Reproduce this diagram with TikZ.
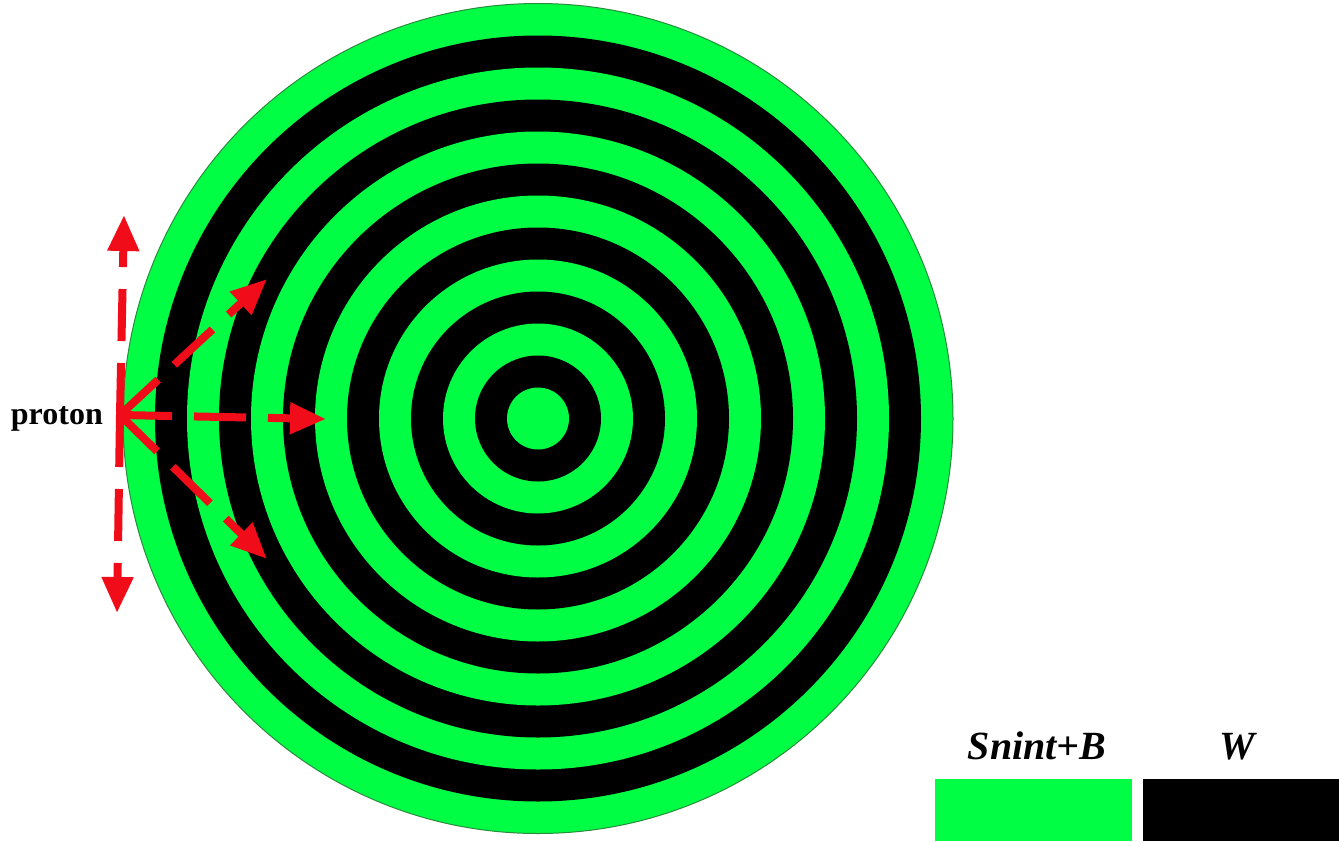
\documentclass[tikz,border=0pt]{standalone}
\usepackage{fontspec}
\setmainfont{Liberation Serif}
\usetikzlibrary{arrows.meta}
\definecolor{ringgreen}{RGB}{0,255,68}
\definecolor{edgegreen}{RGB}{40,140,60}
\definecolor{arrowred}{RGB}{240,12,24}
\tikzset{
  ray/.style={arrowred, line width=8pt, dash pattern=on 52pt off 22pt,
    -{Triangle[length=36pt,width=30pt]}},
  legendbox/.style={draw=none, minimum width=197pt, minimum height=62pt, inner sep=0pt},
  legendlabel/.style={font=\fontsize{40}{44}\selectfont\bfseries\itshape, inner sep=0pt}
}
\begin{document}
\begin{tikzpicture}[x=1pt,y=-1pt]
\useasboundingbox (0,0) rectangle (1339,841);
\coordinate (c) at (538,418.5);
% rings
\foreach \k in {12,11,...,0}{
  \pgfmathtruncatemacro{\ringpar}{mod(\k,2)}
  \ifnum\ringpar=0
    \fill[ringgreen] (c) circle[radius={31+32*\k}];
  \else
    \fill[black] (c) circle[radius={31+32*\k}];
  \fi
}
\draw[edgegreen, line width=1pt] (c) circle[radius=415];
% proton source
\coordinate (o) at (120,415);
\coordinate (up) at (124,215);
\coordinate (down) at (117,613);
\coordinate (right) at (326,419);
\coordinate (ur) at (267,279);
\coordinate (dr) at (267,559);
\node[anchor=base east, font=\fontsize{32}{36}\selectfont\bfseries, inner sep=0pt] (proton) at (103,424) {proton};
\draw[ray] (o) -- (up);
\draw[ray] (o) -- (down);
\draw[ray] (o) -- (right);
\draw[ray] (o) -- (ur);
\draw[ray] (o) -- (dr);
% legend
\node[legendbox, fill=ringgreen, anchor=north west] (lg) at (935,779) {};
\node[legendbox, fill=black, anchor=north west] (lw) at (1143,779) {};
\node[legendlabel, anchor=base] (tg) at (1037,759) {Snint+B};
\node[legendlabel, anchor=base] (tw) at (1237,759) {W};
\end{tikzpicture}
\end{document}
